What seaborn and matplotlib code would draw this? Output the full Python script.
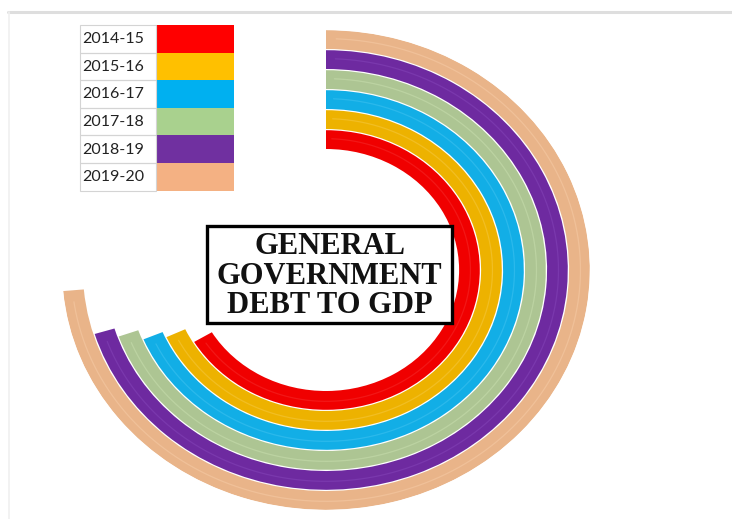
import numpy as np
import matplotlib
matplotlib.use("Agg")
import matplotlib.pyplot as plt
import seaborn as sns
from matplotlib.patches import Rectangle
from matplotlib.lines import Line2D

# Data (share of a full turn = 100)
years = ["2014-15", "2015-16", "2016-17", "2017-18", "2018-19", "2019-20"]
debt_to_gdp = [66.4, 68.1, 68.7, 69.6, 70.3, 73.6]
legend_colors = ["#FF0000", "#FFC000", "#00B0F0", "#A9D18E", "#7030A0", "#F4B183"]
ring_colors = ["#F00000", "#EDB200", "#12AEE6", "#ADC593", "#6E2AA0", "#E9B489"]
stripe_colors = ["#F52A2A", "#F5C840", "#40C2F0", "#C8DEAE", "#8444B8", "#F6CBA6"]
title = "GENERAL\nGOVERNMENT\nDEBT TO GDP"

sns.set_theme(style="white")
palette = sns.color_palette(ring_colors)

W, H = 732, 519
fig = plt.figure(figsize=(W / 100, H / 100), dpi=100)
fig.patch.set_facecolor("white")

# faint screenshot frame (top and left only)
fig.lines.append(Line2D([8 / W, 1], [(H - 11.5) / H] * 2, transform=fig.transFigure,
                        color="#dedede", lw=2.2))
fig.lines.append(Line2D([8.5 / W] * 2, [0, (H - 11.5) / H], transform=fig.transFigure,
                        color="#f0f0f0", lw=1.2))

# radial bars on a polar axes; the picture is a bit wider than tall
cx, cy, Rx, Ry = 326, 270, 264, 240
ax = fig.add_axes([(cx - Rx) / W, (H - cy - Ry) / H, 2 * Rx / W, 2 * Ry / H], projection="polar")
ax.set_aspect("auto")
ax.set_theta_zero_location("N")
ax.set_theta_direction(-1)
ax.set_ylim(0, Ry)
ax.set_axis_off()

pitch, ring_w = 20, 18.8
for i, (val, col) in enumerate(zip(debt_to_gdp, palette)):
    theta = val / 100 * 2 * np.pi
    r_in = 121 + pitch * i
    ax.bar(0, ring_w, width=theta, bottom=r_in, align="edge", color=col, edgecolor="none")
    t = np.linspace(0.04, theta - 0.05, 300)
    ax.plot(t, np.full_like(t, r_in + ring_w * 0.55), color=stripe_colors[i], lw=0.9, alpha=0.55)

# legend table in the top-left corner
tab_x0, tab_x1, tab_x2 = 80, 156, 234
row_h, tab_top = 27.6, 25
for i, (yr, col) in enumerate(zip(years, legend_colors)):
    top = tab_top + i * row_h
    fig.patches.append(Rectangle((tab_x1 / W, (H - top - row_h) / H), (tab_x2 - tab_x1) / W, row_h / H,
                                 transform=fig.transFigure, color=col, lw=0))
    fig.patches.append(Rectangle((tab_x0 / W, (H - top - row_h) / H), (tab_x1 - tab_x0) / W, row_h / H,
                                 transform=fig.transFigure, fill=False, edgecolor="#d4d4d4", lw=0.8))
    fig.text((tab_x0 + 2) / W, (H - top - row_h / 2 - 0.5) / H, yr,
             family="Lato", fontsize=11.5, color="#222222", ha="left", va="center")

# title box
bx0, bx1, by0, by1 = 207, 452, 226, 323
fig.patches.append(Rectangle((bx0 / W, (H - by1) / H), (bx1 - bx0) / W, (by1 - by0) / H,
                             transform=fig.transFigure, facecolor="white", edgecolor="black", lw=2.4))
fig.text((bx0 + bx1) / 2 / W, (H - 276) / H, title, family="Liberation Serif", fontweight="bold",
         fontsize=22, ha="center", va="center", linespacing=1.02, color="#111111")

fig.savefig("out.png", dpi=100)
